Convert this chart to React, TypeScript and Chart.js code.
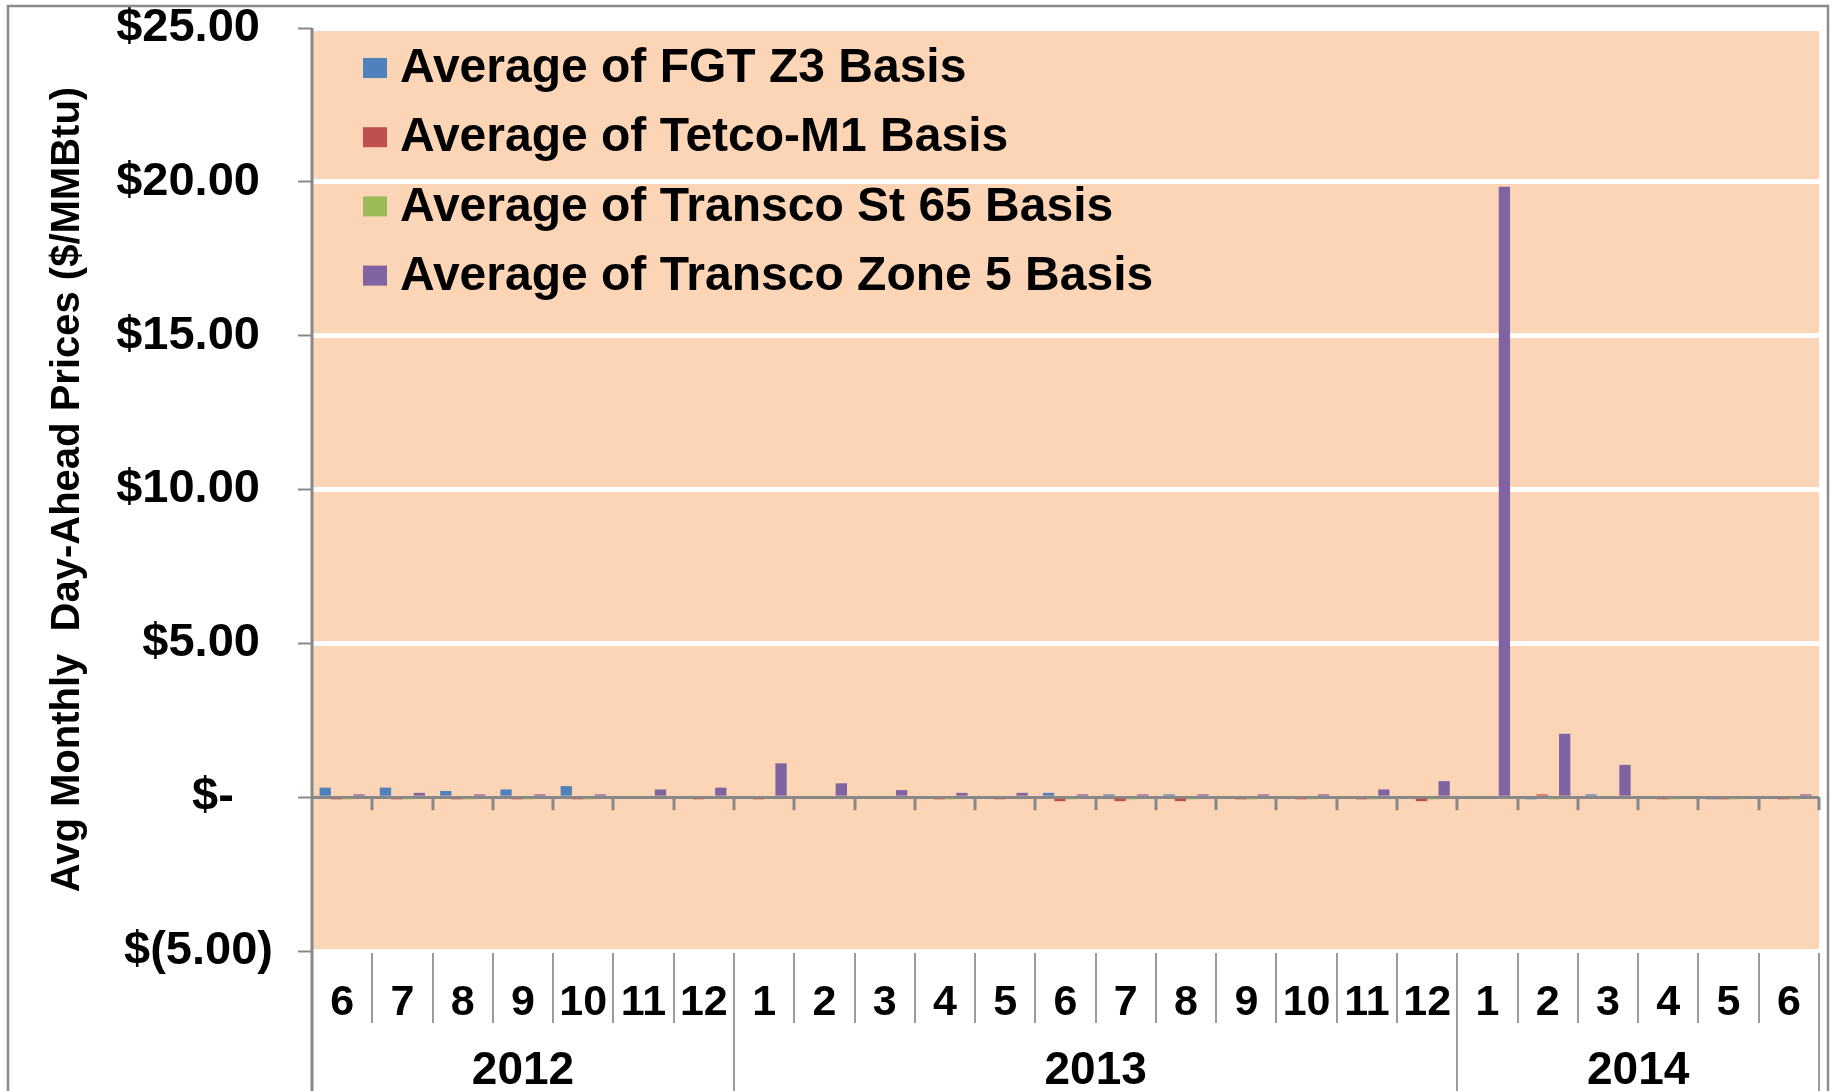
import { useEffect, useRef } from 'react';
import { Chart, registerables } from 'chart.js';

Chart.register(...registerables);

// ---- data ----
const monthLabels = ['6', '7', '8', '9', '10', '11', '12', '1', '2', '3', '4', '5', '6', '7', '8', '9', '10', '11', '12', '1', '2', '3', '4', '5', '6'];
const yearLabels = ['2012', '2013', '2014'];
const yearSpans = [7, 12, 6];

const fgtZ3Basis = [0.31, 0.31, 0.2, 0.25, 0.36, 0, 0, 0, 0, 0, 0, 0, 0.14, 0.09, 0.09, 0, 0, 0, 0, 0, -0.07, 0.09, 0, -0.07, 0];
const tetcoM1Basis = [-0.07, -0.07, -0.07, -0.07, -0.07, 0, -0.07, -0.07, 0, 0, -0.07, -0.07, -0.13, -0.13, -0.13, -0.07, -0.07, -0.07, -0.13, 0, 0.09, 0, -0.07, -0.07, -0.07];
const transcoSt65Basis = [-0.07, -0.07, -0.07, -0.07, -0.07, 0, 0, 0, 0, 0, -0.07, 0, -0.07, -0.07, -0.07, -0.07, -0.07, -0.07, -0.07, 0, -0.07, 0, -0.07, -0.07, -0.07];
const transcoZone5Basis = [0.09, 0.14, 0.09, 0.09, 0.09, 0.25, 0.31, 1.1, 0.45, 0.23, 0.14, 0.14, 0.09, 0.09, 0.09, 0.09, 0.09, 0.25, 0.52, 19.84, 2.06, 1.05, 0, 0, 0.09];

const seriesNames = ['Average of FGT Z3 Basis', 'Average of Tetco-M1 Basis', 'Average of Transco St 65 Basis', 'Average of Transco Zone 5 Basis'];
const seriesColors = ['#4F81BD', '#C0504D', '#9BBB59', '#8064A2'];

const yTickLabels = ['$(5.00)', '$-   ', '$5.00 ', '$10.00 ', '$15.00 ', '$20.00 ', '$25.00 '];
const yTitle = 'Avg Monthly  Day-Ahead Prices ($/MMBtu)';

const FONT = "'Liberation Sans', Arial, Helvetica, sans-serif";
const W = 1833;
const H = 1091;

const decorPlugin = {
  id: 'decor',
  beforeDraw(chart: any) {
    const { ctx, chartArea: a, width, height } = chart;
    ctx.save();
    ctx.fillStyle = '#ffffff';
    ctx.fillRect(0, 0, width, height);
    ctx.fillStyle = '#FBD5B5';
    ctx.fillRect(a.left, a.top, a.right - a.left, a.bottom - a.top);
    ctx.restore();
  },
  afterDraw(chart: any) {
    const { ctx, chartArea: a, height } = chart;
    const xs = chart.scales.x;
    const ys = chart.scales.y;
    const n = monthLabels.length;
    const y0 = ys.getPixelForValue(0);
    const bx = (i: number) => xs.getPixelForValue(i - 0.5);

    ctx.save();
    // category tick marks under the zero line
    ctx.strokeStyle = '#888888';
    ctx.lineWidth = 3;
    for (let i = 1; i <= n; i++) {
      const x = Math.round(bx(i));
      ctx.beginPath();
      ctx.moveTo(x, y0);
      ctx.lineTo(x, y0 + 13);
      ctx.stroke();
    }

    // y axis line (extends through label area)
    ctx.beginPath();
    ctx.moveTo(a.left, a.top);
    ctx.lineTo(a.left, height);
    ctx.stroke();

    // label area separators
    const sepTop = a.bottom + 2;
    const yearBounds: number[] = [];
    let acc = 0;
    yearSpans.forEach((s) => {
      acc += s;
      yearBounds.push(acc);
    });
    ctx.strokeStyle = '#9a9a9a';
    ctx.lineWidth = 2;
    for (let i = 1; i <= n; i++) {
      const x = Math.round(bx(i));
      const full = yearBounds.includes(i);
      ctx.beginPath();
      ctx.moveTo(x, sepTop);
      ctx.lineTo(x, full ? height : sepTop + 70);
      ctx.stroke();
    }

    // month labels
    ctx.fillStyle = '#000';
    ctx.textAlign = 'center';
    ctx.textBaseline = 'middle';
    ctx.font = `bold 43px ${FONT}`;
    monthLabels.forEach((m, i) => {
      ctx.fillText(m, xs.getPixelForValue(i), 1003);
    });

    // year labels
    ctx.font = `bold 46px ${FONT}`;
    let start = 0;
    yearLabels.forEach((yl, k) => {
      const end = start + yearSpans[k];
      const cx = (bx(start) + bx(end)) / 2;
      ctx.fillText(yl, cx, 1071);
      start = end;
    });

    // legend
    ctx.textAlign = 'left';
    ctx.font = `bold 48px ${FONT}`;
    chart.data.datasets.forEach((ds: any, k: number) => {
      const cy = 68 + k * 69.2;
      ctx.fillStyle = ds.backgroundColor;
      ctx.fillRect(363, cy - 10, 24, 20);
      ctx.fillStyle = '#000';
      ctx.fillText(ds.label, 400, cy + 1);
    });

    // outer border
    ctx.strokeStyle = '#8c8c8c';
    ctx.lineWidth = 2.5;
    ctx.strokeRect(8, 6, 1820, height + 10);
    ctx.restore();
  },
};

export default function App() {
  const canvasRef = useRef<HTMLCanvasElement | null>(null);

  useEffect(() => {
    const canvas = canvasRef.current;
    if (!canvas) return;
    const seriesData = [fgtZ3Basis, tetcoM1Basis, transcoSt65Basis, transcoZone5Basis];
    const chart = new Chart(canvas, {
      type: 'bar',
      data: {
        labels: monthLabels,
        datasets: seriesNames.map((name, k) => ({
          label: name,
          data: seriesData[k],
          backgroundColor: seriesColors[k],
          borderWidth: 0,
          categoryPercentage: 0.75,
          barPercentage: 1.0,
        })),
      },
      options: {
        responsive: false,
        animation: false,
        devicePixelRatio: 1,
        layout: { padding: { left: 0, right: 14, top: 28, bottom: 0 } },
        plugins: {
          legend: { display: false },
          tooltip: { enabled: false },
        },
        scales: {
          x: {
            type: 'category',
            grid: { display: false },
            border: { display: false },
            ticks: { display: false },
            afterFit: (scale: any) => {
              scale.height = H - 951;
              scale.paddingLeft = 0;
              scale.paddingRight = 0;
            },
          },
          y: {
            min: -5,
            max: 25,
            ticks: {
              stepSize: 5,
              padding: 25,
              color: '#000',
              font: { size: 47, weight: 'bold', family: FONT },
              callback: (_v: any, i: number) => yTickLabels[i],
            },
            grid: {
              color: (c: any) => (c.tick && c.tick.value === 0 ? '#888888' : '#ffffff'),
              lineWidth: (c: any) => (c.tick && c.tick.value === 0 ? 3 : 5),
              tickColor: '#888888',
              tickWidth: 2,
              tickLength: 14,
              drawTicks: true,
            },
            border: { display: false },
            title: {
              display: true,
              text: yTitle,
              color: '#000',
              font: { size: 40, weight: 'bold', family: FONT },
              padding: { top: 44, bottom: 0 },
            },
            afterFit: (scale: any) => {
              scale.width = 312;
              scale.paddingTop = 0;
              scale.paddingBottom = 0;
            },
          },
        },
      },
      plugins: [decorPlugin],
    } as any);
    return () => chart.destroy();
  }, []);

  return (
    <div style={{ position: 'absolute', left: 0, top: 0, width: W, height: H, overflow: 'hidden' }}>
      <canvas ref={canvasRef} width={W} height={H} style={{ display: 'block', width: W, height: H }} />
    </div>
  );
}
